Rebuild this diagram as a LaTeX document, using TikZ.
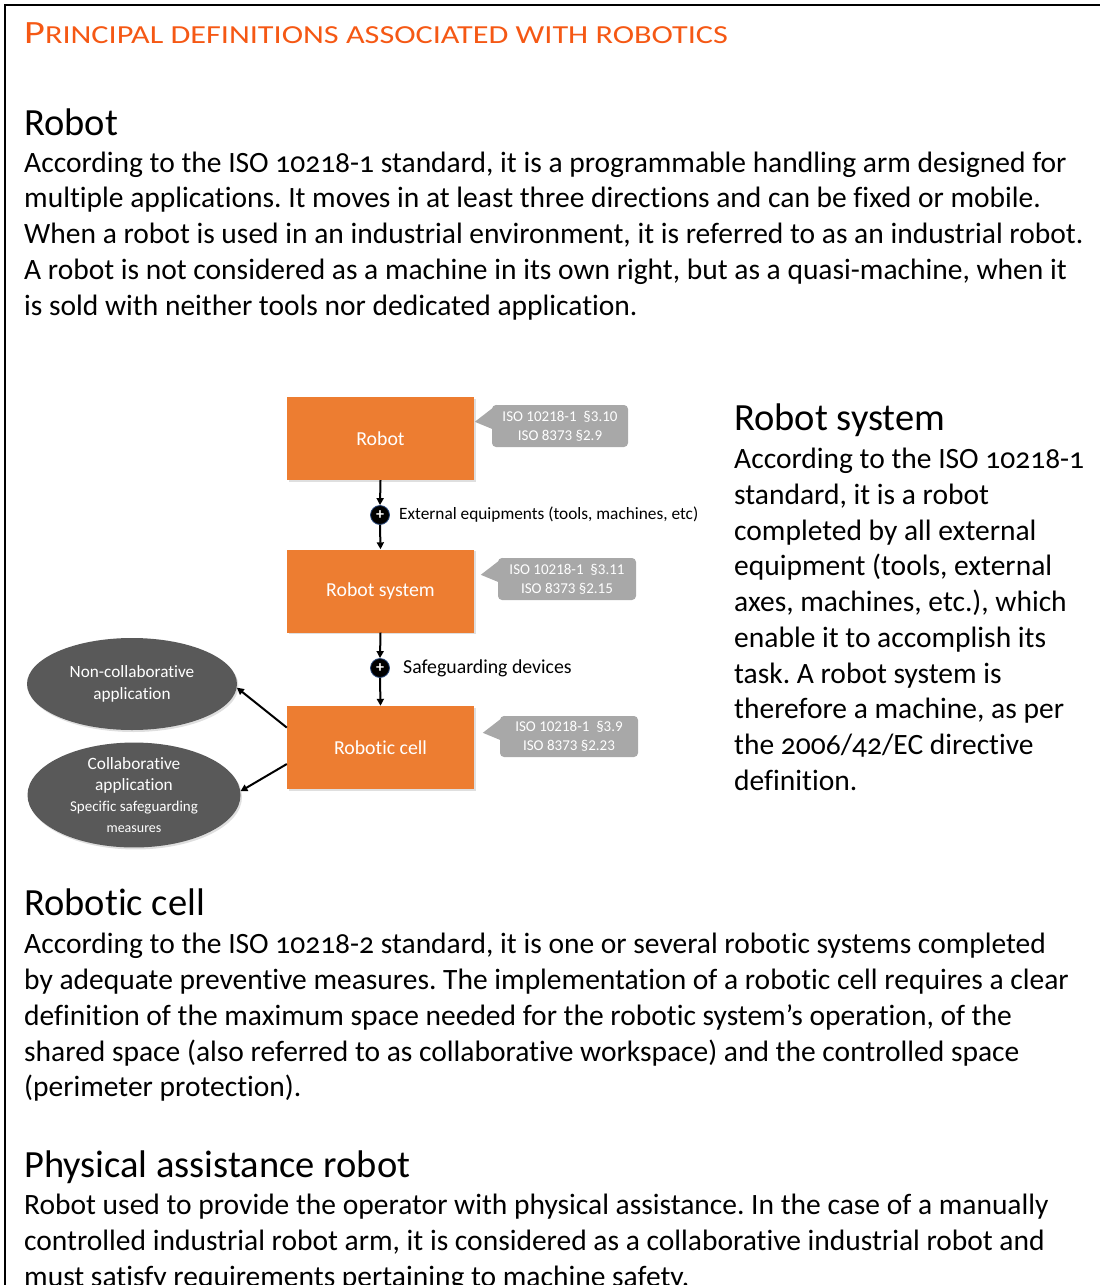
\documentclass[tikz,border=0pt]{standalone}
\usepackage{fontspec}
\setmainfont{Carlito}[Numbers=OldStyle, Ligatures=NoCommon]
\newfontfamily\diagfont{Carlito}[Ligatures=NoCommon]
\newfontfamily\titlefont{Carlito}[FakeStretch=1.24, Ligatures=NoCommon]
\usetikzlibrary{shapes.geometric,shadows,calc,arrows.meta}
\definecolor{titleorange}{RGB}{245,88,20}
\definecolor{boxorange}{RGB}{237,125,49}
\definecolor{calloutgray}{RGB}{168,168,168}
\definecolor{ellgray}{RGB}{89,89,89}
\definecolor{plusblue}{RGB}{40,70,120}
\tikzset{
  txt/.style={anchor=base west, inner sep=0pt, font=\frenchspacing\fontsize{29.5}{34}\selectfont},
  head/.style={anchor=base west, inner sep=0pt, font=\fontsize{38.5}{44}\selectfont},
  obox/.style={rectangle, fill=boxorange, text=white, minimum width=187pt, minimum height=83pt,
    inner sep=0pt, font=\diagfont\fontsize{19.8}{22}\selectfont,
    drop shadow={opacity=0.25, shadow xshift=1.5pt, shadow yshift=-1.5pt}},
  callout/.style={rectangle, rounded corners=4pt, fill=calloutgray, text=white, align=center,
    inner sep=0pt, font=\diagfont\fontsize{15}{19}\selectfont},
  ell/.style={ellipse, fill=ellgray, text=white, align=center, inner sep=0pt,
    drop shadow={opacity=0.25, shadow xshift=1.5pt, shadow yshift=-2pt}},
  plus/.style={circle, fill=black, draw=plusblue, line width=0.8pt, minimum size=19pt, inner sep=0pt},
  lbl/.style={anchor=west, inner sep=0pt, font=\diagfont\fontsize{17.3}{19}\selectfont},
  arr/.style={-{Triangle[length=7pt,width=7pt]}, line width=2pt, black}
}
\begin{document}
\begin{tikzpicture}[x=1pt,y=-1pt]
\useasboundingbox (0,0) rectangle (1100,1285);
\clip (0,0) rectangle (1100,1285);
% frame
\draw[line width=2.5pt] (1100,5) -- (5,5) -- (5,1290);

% title in faked small capitals
\node[anchor=base west, inner sep=0pt, text=titleorange, font=\titlefont] (title) at (24,43)
  {\fontsize{32.5}{34}\selectfont P\fontsize{26}{34}\selectfont RINCIPAL DEFINITIONS ASSOCIATED WITH ROBOTICS};

% Robot
\node[head] (h1) at (24,135) {Robot};
\node[txt] (a1) at (24,172) {According to the ISO 10218-1 standard, it is a programmable handling arm designed for};
\node[txt] (a2) at (24,207) {multiple applications. It moves in at least three directions and can be fixed or mobile.};
\node[txt] (a3) at (24,243) {When a robot is used in an industrial environment, it is referred to as an industrial robot.};
\node[txt] (a4) at (24,279) {A robot is not considered as a machine in its own right, but as a quasi-machine, when it};
\node[txt] (a5) at (24,315) {is sold with neither tools nor dedicated application.};

% Robot system
\node[head] (h2) at (734,430) {Robot system};
\node[txt] (b1) at (734,468) {According to the ISO 10218-1};
\node[txt] (b2) at (734,504) {standard, it is a robot};
\node[txt] (b3) at (734,540) {completed by all external};
\node[txt] (b4) at (734,575) {equipment (tools, external};
\node[txt] (b5) at (734,611) {axes, machines, etc.), which};
\node[txt] (b6) at (734,647) {enable it to accomplish its};
\node[txt] (b7) at (734,683) {task. A robot system is};
\node[txt] (b8) at (734,718) {therefore a machine, as per};
\node[txt] (b9) at (734,754) {the 2006/42/EC directive};
\node[txt] (b10) at (734,790) {definition.};

% Robotic cell
\node[head] (h3) at (24,915) {Robotic cell};
\node[txt] (c1) at (24,953) {According to the ISO 10218-2 standard, it is one or several robotic systems completed};
\node[txt] (c2) at (24,989) {by adequate preventive measures. The implementation of a robotic cell requires a clear};
\node[txt] (c3) at (24,1025) {definition of the maximum space needed for the robotic system’s operation, of the};
\node[txt] (c4) at (24,1061) {shared space (also referred to as collaborative workspace) and the controlled space};
\node[txt] (c5) at (24,1096) {(perimeter protection).};

% Physical assistance robot
\node[head] (h4) at (24,1177) {Physical assistance robot};
\node[txt] (d1) at (24,1214) {Robot used to provide the operator with physical assistance. In the case of a manually};
\node[txt] (d2) at (24,1250) {controlled industrial robot arm, it is considered as a collaborative industrial robot and};
\node[txt] (d3) at (24,1286) {must satisfy requirements pertaining to machine safety.};

% ---- diagram ----
\node[obox] (robot) at (380.5,438.5) {Robot};
\node[obox] (sys) at (380.5,591) {Robot system};
\node[obox] (cell) at (380.5,747.5) {Robotic cell};

\node[callout, minimum width=136pt, minimum height=42pt] (k1) at (560,426) {ISO 10218-1\ \ §3.10\\ISO 8373 §2.9};
\node[callout, minimum width=138pt, minimum height=42pt] (k2) at (567,579) {ISO 10218-1\ \ §3.11\\ISO 8373 §2.15};
\node[callout, minimum width=138pt, minimum height=41pt] (k3) at (569,736.5) {ISO 10218-1\ \ §3.9\\ISO 8373 §2.23};
\foreach \k in {k1,k2,k3}{
  \fill[calloutgray] ($(\k.north west)+(5,0)$) -- ($(\k.north west)+(-17,17)$) -- ($(\k.north west)+(0,24)$) -- cycle;
}

\node[plus] (p1) at (380,515) {\textcolor{white}{\bfseries\fontsize{16}{16}\selectfont +}};
\node[plus] (p2) at (380,668) {\textcolor{white}{\bfseries\fontsize{16}{16}\selectfont +}};
\node[lbl] (l1) at (399,515) {External equipments (tools, machines, etc)};
\node[lbl, font=\diagfont\fontsize{19.8}{22}\selectfont] (l2) at (403,668) {Safeguarding devices};

\node[ell, minimum width=210pt, minimum height=92pt, font=\diagfont\fontsize{17.2}{22}\selectfont] (ncol) at (132,684)
  {Non-collaborative\\application};
\node[ell, minimum width=213pt, minimum height=94pt, font=\diagfont\fontsize{17.3}{20.7}\selectfont] (col) at (134,795)
  {Collaborative\\application\\\fontsize{15}{20.7}\selectfont Specific safeguarding\\\fontsize{14}{20.7}\selectfont measures};

\draw[arr] (robot.south) -- (p1.north);
\draw[arr] (p1.south) -- (sys.north);
\draw[arr] (sys.south) -- (p2.north);
\draw[arr] (p2.south) -- (cell.north);
\draw[arr] (cell.168) -- (ncol.-2);
\draw[arr] (cell.190) -- (col.2);
\end{tikzpicture}
\end{document}
